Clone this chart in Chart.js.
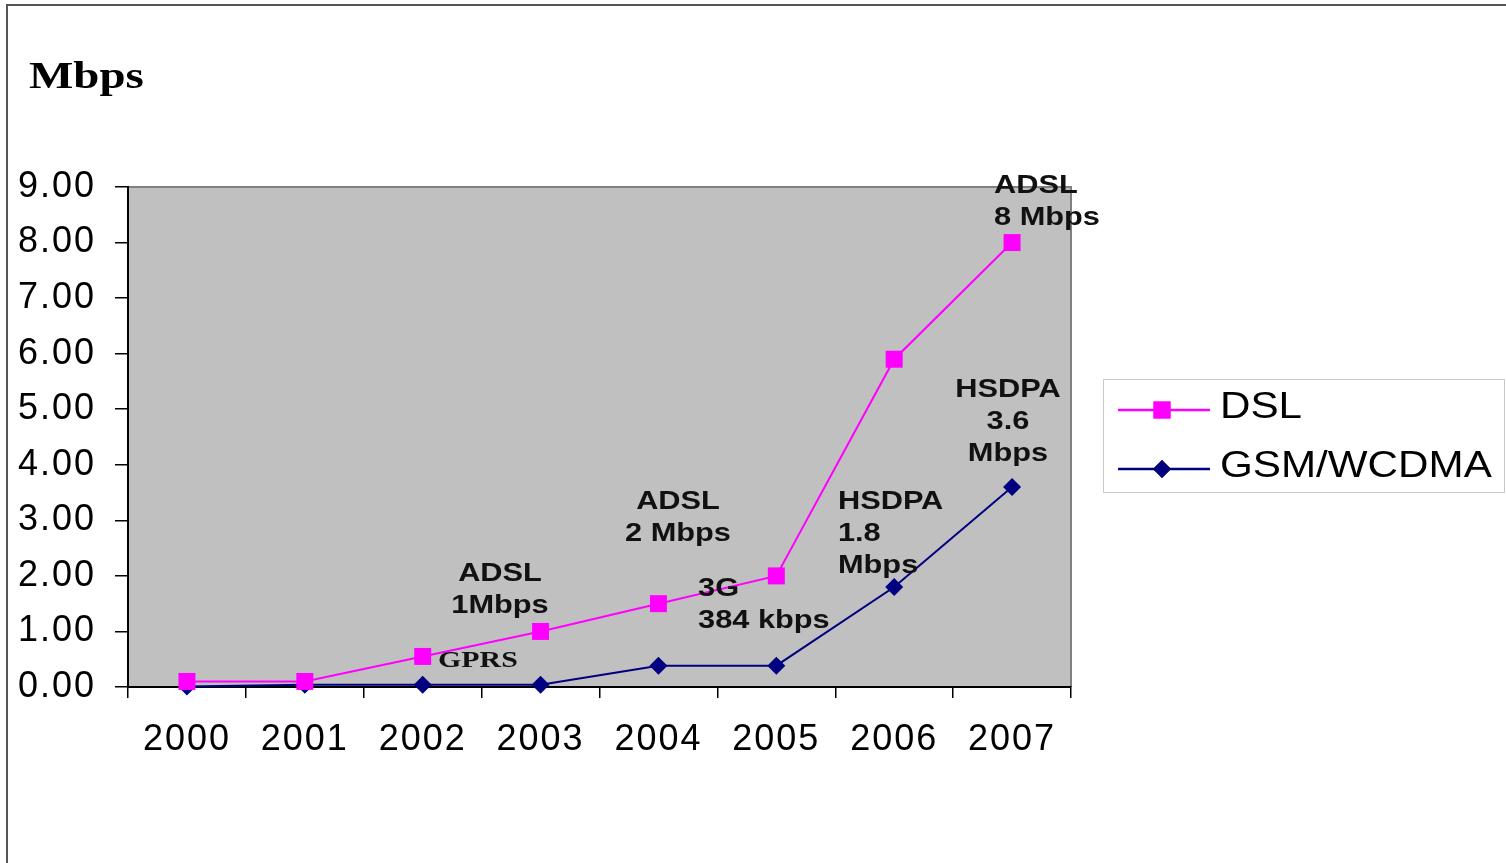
<!DOCTYPE html>
<html>
<head>
<meta charset="utf-8">
<script src="https://cdn.jsdelivr.net/npm/chart.js@4.4.1/dist/chart.umd.min.js"></script>
<style>
  html, body { margin: 0; padding: 0; background: #fff; overflow: hidden; }
  #wrap { width: 1506px; height: 863px; position: relative; }
</style>
</head>
<body>
<div id="wrap"><canvas id="c" width="1506" height="863"></canvas></div>
<script>
// Access speeds by year, in Mbps
const years = ['2000', '2001', '2002', '2003', '2004', '2005', '2006', '2007'];
const dslSpeed = [0.1, 0.1, 0.55, 1.0, 1.5, 2.0, 5.9, 8.0];
const gsmSpeed = [0.0096, 0.04, 0.04, 0.04, 0.384, 0.384, 1.8, 3.6];
const seriesNames = ['DSL', 'GSM/WCDMA'];
const unitTitle = 'Mbps';
const yMin = 0, yMax = 9, yStep = 1;

// Technology call-outs: x in category units, y in Mbps (first line)
const callouts = [
  { x: 2.656, y: 2.03, lines: ['ADSL', '1Mbps'], align: 'center' },
  { x: 4.166, y: 3.33, lines: ['ADSL', '2 Mbps'], align: 'center' },
  { x: 4.336, y: 1.76, lines: ['3G', '384 kbps'], align: 'left' },
  { x: 5.523, y: 3.33, lines: ['HSDPA', '1.8', 'Mbps'], align: 'left' },
  { x: 6.965, y: 5.35, lines: ['HSDPA', '3.6', 'Mbps'], align: 'center' },
  { x: 6.847, y: 9.02, lines: ['ADSL', '8 Mbps'], align: 'left' }
];
const serifCallouts = [
  { x: 2.13, y: 0.47, lines: ['GPRS'], align: 'left' }
];

const DSL_COLOR = '#ff00ff';
const GSM_COLOR = '#000080';
const SANS = '"Liberation Sans", Arial, sans-serif';
const SERIF = '"Liberation Serif", "Times New Roman", serif';

// Text drawn with a horizontal stretch (wide lettering)
function wideText(ctx, text, x, y, sx, align) {
  ctx.save();
  ctx.translate(x, y);
  ctx.scale(sx, 1);
  ctx.textAlign = align;
  ctx.fillText(text, 0, 0);
  ctx.restore();
}

const framePlugin = {
  id: 'frame',
  beforeUpdate(chart) { chart.ctx.letterSpacing = '2px'; },
  beforeDraw(chart) {
    const ctx = chart.ctx;
    const a = chart.chartArea;
    ctx.save();
    ctx.fillStyle = '#ffffff';
    ctx.fillRect(0, 0, chart.width, chart.height);
    // outer frame
    ctx.strokeStyle = '#555555';
    ctx.lineWidth = 2;
    ctx.beginPath();
    ctx.moveTo(7, chart.height);
    ctx.lineTo(7, 5);
    ctx.lineTo(chart.width, 5);
    ctx.stroke();
    // plot area
    ctx.fillStyle = '#c0c0c0';
    ctx.fillRect(a.left, a.top, a.right - a.left, a.bottom - a.top);
    ctx.strokeStyle = '#808080';
    ctx.lineWidth = 2;
    ctx.beginPath();
    ctx.moveTo(a.left, a.top);
    ctx.lineTo(a.right, a.top);
    ctx.lineTo(a.right, a.bottom);
    ctx.stroke();
    // unit title
    ctx.letterSpacing = '0px';
    ctx.fillStyle = '#000';
    ctx.font = 'bold 37px ' + SERIF;
    ctx.textBaseline = 'alphabetic';
    wideText(ctx, unitTitle, 29, 88, 1.27, 'left');
    ctx.restore();
    ctx.letterSpacing = '2px';
  },
  afterDatasetsDraw(chart) {
    const ctx = chart.ctx;
    const xs = chart.scales.x, ys = chart.scales.y;
    ctx.save();
    ctx.letterSpacing = '0px';
    ctx.fillStyle = '#111';
    ctx.textBaseline = 'middle';
    const drawSet = (list, font, sx, lineH) => {
      ctx.font = font;
      list.forEach(c => {
        const px = xs.getPixelForDecimal((c.x + 0.5) / years.length);
        const py = ys.getPixelForValue(c.y);
        c.lines.forEach((t, i) => wideText(ctx, t, px, py + i * lineH, sx, c.align));
      });
    };
    drawSet(callouts, 'bold 25px ' + SANS, 1.23, 32);
    drawSet(serifCallouts, 'bold 23px ' + SERIF, 1.3, 32);
    ctx.restore();

    // legend
    ctx.save();
    ctx.letterSpacing = '0px';
    ctx.strokeStyle = '#c8c8c8';
    ctx.lineWidth = 1;
    ctx.strokeRect(1103.5, 379.5, 401, 113);
    const items = chart.data.datasets;
    items.forEach((ds, i) => {
      const y = 410 + i * 59;
      ctx.strokeStyle = ds.borderColor;
      ctx.lineWidth = 2.5;
      ctx.beginPath();
      ctx.moveTo(1118, y);
      ctx.lineTo(1210, y);
      ctx.stroke();
      Chart.helpers.drawPoint(ctx, {
        pointStyle: ds.pointStyle, radius: ds.pointRadius, rotation: 0, borderWidth: 0
      }, 1162, y);
      ctx.fillStyle = ds.pointBackgroundColor;
      ctx.fill();
      ctx.fillStyle = '#000';
      ctx.font = '37px ' + SANS;
      ctx.textBaseline = 'middle';
      wideText(ctx, ds.label, 1220, y - 2, 1.14, 'left');
    });
    ctx.restore();
    ctx.letterSpacing = '2px';
  }
};

new Chart(document.getElementById('c'), {
  type: 'line',
  data: {
    labels: years,
    datasets: [
      {
        label: seriesNames[0], data: dslSpeed,
        borderColor: DSL_COLOR, backgroundColor: DSL_COLOR,
        pointBackgroundColor: DSL_COLOR, pointBorderColor: DSL_COLOR,
        borderWidth: 2, pointStyle: 'rect', pointRadius: 12, pointBorderWidth: 0,
        tension: 0, clip: false
      },
      {
        label: seriesNames[1], data: gsmSpeed,
        borderColor: GSM_COLOR, backgroundColor: GSM_COLOR,
        pointBackgroundColor: GSM_COLOR, pointBorderColor: GSM_COLOR,
        borderWidth: 2, pointStyle: 'rectRot', pointRadius: 9, pointBorderWidth: 0,
        tension: 0, clip: false
      }
    ]
  },
  options: {
    responsive: false,
    devicePixelRatio: 1,
    animation: false,
    events: [],
    layout: { padding: { left: 0, top: 187, right: 435, bottom: 86 } },
    plugins: { legend: { display: false }, tooltip: { enabled: false }, title: { display: false } },
    scales: {
      x: {
        type: 'category',
        offset: true,
        grid: { offset: true, drawOnChartArea: false, drawTicks: true, tickLength: 11, color: '#000', lineWidth: 1.5 },
        border: { color: '#000', width: 2 },
        ticks: { color: '#000', font: { family: SANS, size: 36 }, padding: 20, maxRotation: 0, autoSkip: false },
        afterFit(scale) { scale.height = 90; }
      },
      y: {
        min: yMin, max: yMax,
        grid: { drawOnChartArea: false, drawTicks: true, tickLength: 13, color: '#000', lineWidth: 1.5 },
        border: { color: '#000', width: 2 },
        ticks: {
          stepSize: yStep, color: '#000', font: { family: SANS, size: 36 }, padding: 19,
          callback: v => Number(v).toFixed(2)
        },
        afterFit(scale) { scale.width = 128; }
      }
    }
  },
  plugins: [framePlugin]
});
</script>
</body>
</html>
